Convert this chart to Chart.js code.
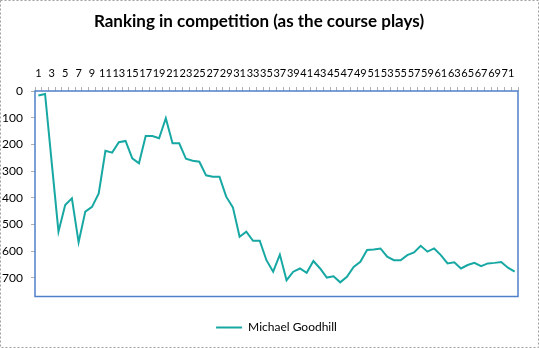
<!DOCTYPE html>
<html>
<head>
<meta charset="utf-8">
<script src="https://cdn.jsdelivr.net/npm/chart.js@4/dist/chart.umd.min.js"></script>
<style>
  html, body { margin: 0; padding: 0; background: #fff; }
  #wrap { width: 539px; height: 348px; position: relative; }
</style>
</head>
<body>
<div id="wrap"><canvas id="c" width="539" height="348"></canvas></div>
<script>
const chartTitle = 'Ranking in competition (as the course plays)';
const seriesName = 'Michael Goodhill';
const holes = [];
for (let i = 1; i <= 72; i++) holes.push(String(i));
const ranking = [
  17, 11, 270, 527, 427, 402, 567, 452, 434, 384,
  224, 231, 192, 187, 252, 271, 169, 169, 177, 102,
  196, 196, 254, 261, 265, 316, 321, 321, 396, 436,
  546, 527, 561, 561, 634, 677, 613, 709, 677, 665,
  681, 637, 665, 699, 694, 717, 696, 659, 640, 596,
  594, 590, 621, 634, 634, 615, 605, 580, 602, 590,
  615, 646, 642, 665, 652, 644, 656, 646, 644, 641,
  662, 677
];
const yTickValues = [0, 100, 200, 300, 400, 500, 600, 700];

const frame = {
  id: 'frame',
  beforeDraw(chart) {
    const ctx = chart.ctx;
    ctx.save();
    ctx.fillStyle = '#ffffff';
    ctx.fillRect(0, 0, chart.width, chart.height);
    ctx.strokeStyle = '#a0a0a0';
    ctx.setLineDash([2, 2]);
    ctx.lineWidth = 1;
    ctx.strokeRect(0.5, 0.5, chart.width - 1, chart.height - 1);
    ctx.restore();
  },
  afterDatasetsDraw(chart) {
    const a = chart.chartArea;
    const ctx = chart.ctx;
    ctx.save();
    ctx.strokeStyle = '#4f7fc9';
    ctx.lineWidth = 1.5;
    ctx.strokeRect(a.left, a.top, a.right - a.left, a.bottom - a.top);
    ctx.restore();
  }
};

new Chart(document.getElementById('c'), {
  type: 'line',
  data: {
    labels: holes,
    datasets: [{
      label: seriesName,
      data: ranking,
      borderColor: '#17a8a3',
      backgroundColor: '#17a8a3',
      borderWidth: 2,
      pointRadius: 0,
      tension: 0,
      fill: false
    }]
  },
  options: {
    responsive: false,
    animation: false,
    layout: { padding: { left: 0, right: 21, top: 0, bottom: 4.5 } },
    plugins: {
      title: {
        display: true,
        text: chartTitle,
        color: '#000',
        font: { family: 'Lato', size: 17, weight: 'bold' },
        padding: { top: 11, bottom: 8 }
      },
      legend: {
        display: true,
        position: 'bottom',
        fullSize: false,
        labels: {
          color: '#000',
          font: { family: 'Lato', size: 12 },
          usePointStyle: true,
          pointStyle: 'line',
          pointStyleWidth: 26,
          padding: 25
        }
      },
      tooltip: { enabled: false }
    },
    scales: {
      x: {
        type: 'category',
        position: 'top',
        offset: true,
        afterFit(scale) { scale.height = 51.6; },
        grid: { drawOnChartArea: false, drawTicks: true, tickLength: 4, color: '#b0b0b0', offset: true },
        border: { display: false },
        ticks: {
          autoSkip: false,
          maxRotation: 0,
          minRotation: 0,
          padding: 7,
          color: '#000',
          font: { family: 'Lato', size: 11 },
          callback: (v, i) => (i % 2 === 0 ? holes[i] : '')
        }
      },
      y: {
        reverse: true,
        min: 0,
        max: 770,
        afterFit(scale) { scale.width = 35; },
        afterBuildTicks(scale) { scale.ticks = yTickValues.map(v => ({ value: v })); },
        grid: { drawOnChartArea: false, drawTicks: true, tickLength: 4, color: '#b0b0b0' },
        border: { display: false },
        ticks: {
          padding: 8,
          color: '#000',
          font: { family: 'Lato', size: 12 }
        }
      }
    }
  },
  plugins: [frame]
});
</script>
</body>
</html>
